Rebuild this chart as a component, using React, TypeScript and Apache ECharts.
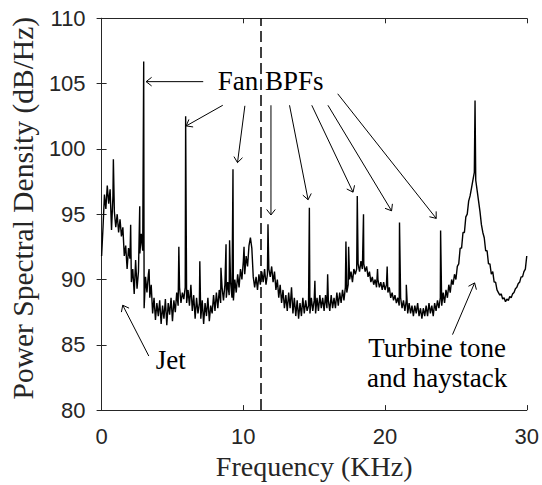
import React, { useEffect, useRef } from "react";
import * as echarts from "echarts";

// ---------- data ----------
const FREQ_STEP_KHZ = 0.1; // broadband samples every 0.1 kHz from 0 to 30 kHz

// broadband spectrum level (dB/Hz), one row per kHz
const broadbandLevel: number[] = [
  91.8, 94.0, 96.5, 95.4, 97.2, 95.8, 96.9, 93.8, 96.4, 95.2,
  94.0, 95.0, 93.6, 94.6, 93.3, 94.0, 91.8, 92.6, 90.8, 92.4,
  91.6, 89.8, 90.8, 88.9, 91.5, 89.3, 90.6, 92.0, 93.5, 92.2,
  87.8, 90.2, 89.0, 90.4, 88.6, 89.6, 87.4, 88.6, 86.9, 88.2,
  87.2, 88.4, 86.6, 88.0, 87.0, 88.5, 86.5, 88.2, 87.3, 88.6,
  86.8, 88.4, 87.5, 89.0, 88.0, 89.4, 88.2, 89.0, 88.5, 89.4,
  88.2, 89.2, 88.0, 89.6, 87.6, 88.8, 87.0, 88.6, 87.4, 88.2,
  87.0, 88.4, 86.6, 88.2, 87.2, 88.6, 86.8, 88.0, 87.4, 88.8,
  87.6, 89.0, 87.8, 89.2, 88.2, 89.4, 88.4, 89.6, 88.6, 89.8,
  88.8, 89.8, 88.6, 88.4, 90.0, 89.0, 90.4, 89.4, 90.8, 90.0,
  91.4, 90.4, 91.8, 91.0, 92.6, 93.2, 92.4, 90.2, 89.4, 90.2,
  89.2, 90.4, 89.6, 90.6, 89.8, 90.8, 89.6, 90.4, 90.8, 90.2,
  91.0, 89.8, 90.6, 89.2, 90.0, 88.6, 89.6, 88.2, 89.2, 87.8,
  88.8, 87.6, 89.0, 87.8, 89.4, 87.4, 88.6, 87.2, 88.4, 87.0,
  88.2, 87.2, 88.6, 87.4, 88.4, 87.6, 88.0, 87.4, 88.6, 87.6,
  88.4, 87.4, 88.6, 87.6, 88.8, 87.8, 88.6, 87.6, 88.8, 87.8,
  88.4, 87.6, 88.8, 87.8, 88.6, 87.8, 89.0, 88.0, 89.0, 88.2,
  89.2, 88.4, 89.4, 89.0, 89.6, 90.0, 90.6, 89.8, 90.8, 90.4,
  90.8, 91.2, 90.6, 91.4, 90.8, 91.2, 90.6, 91.0, 90.2, 90.6,
  89.8, 90.2, 89.6, 90.0, 89.4, 90.0, 89.4, 89.8, 89.2, 89.8,
  89.2, 89.6, 89.0, 89.4, 88.6, 89.0, 88.4, 88.8, 88.2, 88.6,
  88.0, 88.6, 87.8, 88.4, 87.6, 88.4, 87.4, 88.2, 87.4, 88.0,
  87.2, 88.0, 87.4, 88.2, 87.2, 87.8, 87.0, 87.8, 87.2, 88.0,
  87.2, 88.2, 87.4, 88.0, 87.2, 88.2, 87.6, 88.4, 87.8, 88.6,
  88.0, 89.0, 88.2, 89.2, 88.6, 89.6, 89.0, 90.0, 89.6, 90.4,
  90.0, 91.0, 91.2, 92.4, 92.4, 93.6, 93.6, 94.8, 95.0, 96.0,
  96.4, 97.0, 97.6, 98.2, 97.6, 96.8, 96.0, 95.2, 94.2, 93.6,
  93.2, 92.2, 92.2, 91.2, 91.2, 90.4, 90.6, 89.8, 89.8, 89.2,
  89.0, 88.8, 88.9, 88.5, 88.6, 88.3, 88.5, 88.4, 88.7, 88.6,
  88.9, 89.0, 89.3, 89.4, 89.7, 89.8, 90.2, 90.2, 90.6, 90.8,
  91.8,
];

// narrow tonal peaks (kHz, dB/Hz)
const toneFreqs: number[] = [
  0.83, 2.05, 2.69, 2.97, 3.35, 5.45, 5.93, 6.93, 8.42, 8.78, 9.03, 9.27,
  10.05, 11.74, 14.66, 15.05, 15.95, 17.24, 17.43, 18.04, 18.48, 19.47,
  20.15, 21.02, 21.5, 23.92, 26.35,
];
const toneLevels: number[] = [
  99.2, 94.2, 95.6, 106.7, 90.8, 92.5, 102.5, 91.4, 90.9, 92.7, 93.0, 98.45,
  92.5, 94.23, 95.5, 89.9, 90.4, 92.9, 92.5, 96.4, 95.0, 90.8,
  91.0, 94.36, 89.6, 93.76, 103.7,
];

const dashedLineFreq = 11.24;

const xTickLabels = ["0", "10", "20", "30"];
const yTickLabels = ["80", "85", "90", "95", "100", "105", "110"];
const xAxisTitle = "Frequency (KHz)";
const yAxisTitle = "Power Spectral Density (dB/Hz)";

// annotation arrows: [from kHz, from dB, to kHz, to dB]
const fanArrows: number[][] = [
  [7.17, 105.15, 3.14, 105.15],
  [8.55, 103.34, 5.97, 101.76],
  [10.11, 103.3, 9.59, 98.95],
  [11.95, 103.34, 11.95, 94.94],
  [13.26, 103.34, 14.57, 96.11],
  [14.83, 103.34, 17.74, 96.69],
  [15.97, 103.34, 20.46, 95.26],
  [16.66, 104.22, 23.61, 94.68],
];
const jetArrow = [3.33, 84.14, 1.49, 88.03];
const turbineArrow = [24.76, 85.78, 26.32, 89.74];

const annotationTexts = ["Fan BPFs", "Jet", "Turbine tone\nand haystack"];
const annotationAt: number[][] = [
  [11.92, 105.17],
  [4.88, 83.8],
  [23.68, 83.63],
];

const AXIS_COLOR = "#262626";
const SERIF = "Liberation Serif, Times New Roman, Times, serif";
const SANS = "Liberation Sans, Arial, Helvetica, sans-serif";

export default function App() {
  const ref = useRef<HTMLDivElement>(null);

  useEffect(() => {
    if (!ref.current) return;
    const chart = echarts.init(ref.current, undefined, { renderer: "svg" });

    const points: number[][] = broadbandLevel.map((v, i) => [
      Math.round(i * FREQ_STEP_KHZ * 100) / 100,
      v,
    ]);
    toneFreqs.forEach((f, i) => points.push([f, toneLevels[i]]));
    points.sort((a, b) => a[0] - b[0]);

    const xLabel = (v: number) => xTickLabels[Math.round(v / 10)] ?? String(v);
    const yLabel = (v: number) => yTickLabels[Math.round((v - 80) / 5)] ?? String(v);

    const common = {
      type: "value" as const,
      axisLine: { show: true, lineStyle: { color: AXIS_COLOR, width: 1 } },
      axisTick: { show: true, inside: true, length: 5, lineStyle: { color: AXIS_COLOR } },
      splitLine: { show: false },
    };

    chart.setOption({
      animation: false,
      grid: { left: 97.7, right: 9.3, top: 18.3, bottom: 68.3, containLabel: false },
      xAxis: [
        {
          ...common,
          position: "bottom",
          min: 0,
          max: 30,
          interval: 10,
          axisLabel: {
            formatter: xLabel,
            color: AXIS_COLOR,
            fontFamily: SANS,
            fontSize: 22,
            margin: 15,
          },
          name: xAxisTitle,
          nameLocation: "middle",
          nameGap: 38,
          nameTextStyle: { fontFamily: SERIF, fontSize: 28, color: AXIS_COLOR },
        },
        {
          ...common,
          position: "top",
          min: 0,
          max: 30,
          interval: 10,
          axisLabel: { show: false },
        },
      ],
      yAxis: [
        {
          ...common,
          position: "left",
          min: 80,
          max: 110,
          interval: 5,
          axisLabel: {
            formatter: yLabel,
            color: AXIS_COLOR,
            fontFamily: SANS,
            fontSize: 22,
            margin: 16,
          },
          name: yAxisTitle,
          nameLocation: "middle",
          nameGap: 59,
          nameTextStyle: {
            fontFamily: SERIF,
            fontSize: 29.5,
            color: AXIS_COLOR,
            padding: [0, 0, 0, 12],
          },
        },
        {
          ...common,
          position: "right",
          min: 80,
          max: 110,
          interval: 5,
          axisLabel: { show: false },
        },
      ],
      series: [
        {
          type: "line",
          xAxisIndex: 0,
          yAxisIndex: 0,
          data: points,
          showSymbol: false,
          symbol: "none",
          lineStyle: { color: "#000", width: 1.4 },
          markLine: {
            silent: true,
            symbol: "none",
            label: { show: false },
            lineStyle: { color: "#000", type: [11, 5], width: 1.5 },
            data: [{ xAxis: dashedLineFreq }],
          },
        },
      ],
    });

    const px = (f: number, d: number) =>
      chart.convertToPixel({ xAxisIndex: 0, yAxisIndex: 0 }, [f, d]) as number[];

    const elements: any[] = [];
    const addArrow = (a: number[]) => {
      const p0 = px(a[0], a[1]);
      const p1 = px(a[2], a[3]);
      elements.push({
        type: "line",
        shape: { x1: p0[0], y1: p0[1], x2: p1[0], y2: p1[1] },
        style: { stroke: "#000", lineWidth: 1 },
        z: 10,
      });
      const dx = p1[0] - p0[0];
      const dy = p1[1] - p0[1];
      const len = Math.hypot(dx, dy) || 1;
      const ux = dx / len;
      const uy = dy / len;
      const L = 7;
      const th = (38 * Math.PI) / 180;
      const c = Math.cos(th);
      const s = Math.sin(th);
      const w1 = [p1[0] - L * (ux * c - uy * s), p1[1] - L * (uy * c + ux * s)];
      const w2 = [p1[0] - L * (ux * c + uy * s), p1[1] - L * (uy * c - ux * s)];
      elements.push({
        type: "polyline",
        shape: { points: [w1, p1, w2] },
        style: { stroke: "#000", lineWidth: 1, fill: null },
        z: 10,
      });
    };
    fanArrows.forEach(addArrow);
    addArrow(jetArrow);
    addArrow(turbineArrow);

    annotationTexts.forEach((t, i) => {
      const p = px(annotationAt[i][0], annotationAt[i][1]);
      elements.push({
        type: "text",
        x: p[0],
        y: p[1],
        z: 9,
        style: {
          text: t,
          fontFamily: SERIF,
          fontSize: 27,
          lineHeight: 30,
          fill: "#000",
          align: "center",
          textAlign: "center",
          verticalAlign: "middle",
          textVerticalAlign: "middle",
        },
      });
    });

    chart.setOption({ graphic: { elements } });

    return () => chart.dispose();
  }, []);

  return (
    <div
      ref={ref}
      style={{ position: "fixed", left: 0, top: 0, width: 542, height: 485, background: "#fff" }}
    />
  );
}
